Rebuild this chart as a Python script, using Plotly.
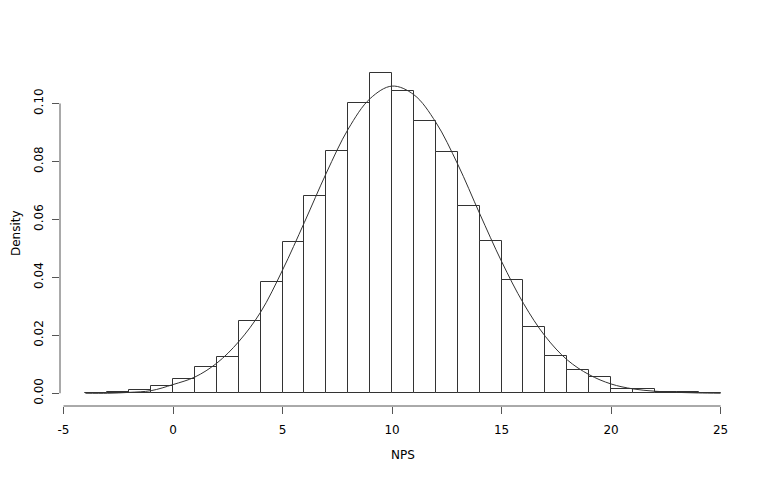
import plotly.graph_objects as go

# ---------------- Data ----------------

bin_left = list(range(-4, 25))
density = [
    0.0001, 0.0003, 0.0010, 0.0024, 0.0048, 0.0092, 0.0126, 0.0248,
    0.0384, 0.0522, 0.0682, 0.0837, 0.1001, 0.1106, 0.1044, 0.0940,
    0.0834, 0.0647, 0.0526, 0.0390, 0.0228, 0.0128, 0.0081, 0.0057,
    0.0016, 0.0013, 0.0004, 0.0003, 0.0001,
]

curve_x = list(range(-4, 26))
curve_y = [
    0.0000, 0.0000, 0.0003, 0.0009, 0.0030, 0.0056, 0.0104, 0.0178,
    0.0280, 0.0425, 0.0590, 0.0760, 0.0912, 0.1017, 0.1060, 0.1030,
    0.0935, 0.0790, 0.0620, 0.0455, 0.0310, 0.0196, 0.0115, 0.0064,
    0.0032, 0.0015, 0.0007, 0.0003, 0.0001, 0.0000,
]

x_ticks = [-5, 0, 5, 10, 15, 20, 25]
x_tick_text = ["-5", "0", "5", "10", "15", "20", "25"]
y_ticks = [0.00, 0.02, 0.04, 0.06, 0.08, 0.10]
y_tick_text = ["0.00", "0.02", "0.04", "0.06", "0.08", "0.10"]

FONT = "DejaVu Sans"
AXIS_COLOR = "#555555"

# page body adds an 8px offset, so margins are trimmed by that much
ML, MT = 52, 52
MR, MB = 40, 81

# ---------------- Figure ----------------

fig = go.Figure()

fig.add_trace(
    go.Bar(
        x=[b + 0.5 for b in bin_left],
        y=density,
        width=1,
        marker=dict(color="white", line=dict(color="#333333", width=1)),
        showlegend=False,
    )
)

fig.add_trace(
    go.Scatter(
        x=curve_x,
        y=curve_y,
        mode="lines",
        line=dict(color="#333333", width=1, shape="spline"),
        showlegend=False,
    )
)

# R style detached axis lines, running only between the outer ticks
fig.add_shape(
    type="line", xref="x", yref="paper",
    x0=x_ticks[0], x1=x_ticks[-1], y0=0, y1=0,
    line=dict(color=AXIS_COLOR, width=1),
)
fig.add_shape(
    type="line", xref="paper", yref="y",
    x0=0, x1=0, y0=y_ticks[0], y1=y_ticks[-1],
    line=dict(color=AXIS_COLOR, width=1),
)

# axis titles as annotations for exact placement
fig.add_annotation(
    text="NPS", xref="paper", yref="paper", x=0.5, y=0,
    yshift=-49, xanchor="center", yanchor="middle", showarrow=False,
)
fig.add_annotation(
    text="Density", xref="paper", yref="paper", x=0, y=0.5,
    xshift=-44, xanchor="center", yanchor="middle", textangle=-90,
    showarrow=False,
)

fig.update_layout(
    width=778,
    height=479,
    paper_bgcolor="white",
    plot_bgcolor="white",
    bargap=0,
    margin=dict(l=ML, r=MR, t=MT, b=MB),
    font=dict(family=FONT, size=12, color="black"),
)

fig.update_xaxes(
    range=[-5.16, 26.16],
    tickvals=x_ticks,
    ticktext=x_tick_text,
    ticks="outside",
    ticklen=7,
    tickcolor=AXIS_COLOR,
    ticklabelstandoff=6,
    showline=False,
    showgrid=False,
    zeroline=False,
    automargin=False,
)

fig.update_yaxes(
    range=[-0.0044, 0.1150],
    tickvals=y_ticks,
    ticktext=y_tick_text,
    tickangle=-90,
    ticks="outside",
    ticklen=7,
    tickcolor=AXIS_COLOR,
    ticklabelstandoff=4,
    showline=False,
    showgrid=False,
    zeroline=False,
    automargin=False,
)

fig.write_html("out.html")
